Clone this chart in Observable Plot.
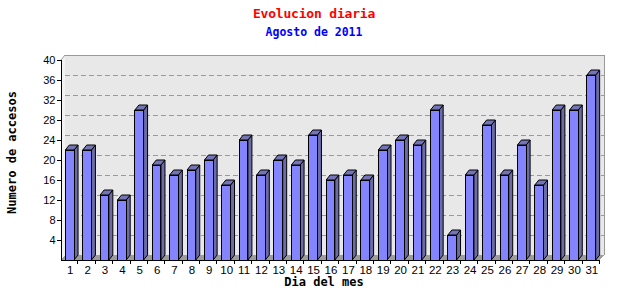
<!DOCTYPE html>
<html>
<head>
<meta charset="utf-8">
<script src="https://cdn.jsdelivr.net/npm/d3@7"></script>
<script src="https://cdn.jsdelivr.net/npm/@observablehq/plot@0.6"></script>
<style>
  html, body { margin: 0; padding: 0; background: #fff; }
  #wrap { position: relative; width: 640px; height: 300px; overflow: hidden; }
  #head { position: relative; width: 640px; height: 42px; }
  .t { position: absolute; left: 0; width: 628px; text-align: center; font-family: "DejaVu Sans Mono", monospace; font-weight: bold; }
  #title { top: 5px; font-size: 13px; line-height: 18px; color: #ff0000; letter-spacing: -0.2px; }
  #subtitle { top: 25px; font-size: 11.5px; line-height: 14px; color: #0000ff; }
  svg { display: block; }
</style>
</head>
<body>
<div id="wrap">
  <div id="head">
    <div class="t" id="title">Evolucion diaria</div>
    <div class="t" id="subtitle">Agosto de 2011</div>
  </div>
  <div id="chart"></div>
</div>
<script>
const dayLabels = ["1","2","3","4","5","6","7","8","9","10","11","12","13","14","15","16","17","18","19","20","21","22","23","24","25","26","27","28","29","30","31"];
const visits = [22,22,13,12,30,19,17,18,20,15,24,17,20,19,25,16,17,16,22,24,23,30,5,17,27,17,23,15,30,30,37];
const yTicks = [4,8,12,16,20,24,28,32,36,40];

const data = dayLabels.map((d, i) => ({day: d, value: visits[i]}));

const DX = 4, DY = 5;
const BAR_FRAC = 0.5;
const ns = "http://www.w3.org/2000/svg";

function el(name, attrs) {
  const e = document.createElementNS(ns, name);
  for (const k in attrs) e.setAttribute(k, attrs[k]);
  return e;
}
function poly(pts, attrs) {
  return el("polygon", Object.assign({points: pts.map(p => p.join(",")).join(" ")}, attrs));
}

// background scene: left wall, back panel, dashed grid, floor
function scene(index, scales, values, dimensions) {
  const {x, y} = scales;
  const L = dimensions.marginLeft, R = dimensions.width - dimensions.marginRight;
  const B = y(0), T = y(yTicks[yTicks.length - 1]);
  const g = el("g", {"shape-rendering": "crispEdges"});
  g.appendChild(poly([[L, B], [L, T], [L + DX, T - DY], [L + DX, B - DY]], {fill: "#f2f2f2"}));
  g.appendChild(el("rect", {x: L + DX, y: T - DY, width: R - L, height: B - T, fill: "#e8e8e8"}));
  for (const v of yTicks.slice(0, -1)) {
    g.appendChild(el("line", {x1: L + DX, x2: R + DX, y1: y(v) - DY, y2: y(v) - DY, stroke: "#9a9a9a", "stroke-dasharray": "5,3"}));
  }
  g.appendChild(el("line", {x1: L + DX, x2: R + DX, y1: T - DY, y2: T - DY, stroke: "#999"}));
  g.appendChild(el("line", {x1: R + DX, x2: R + DX, y1: T - DY, y2: B - DY, stroke: "#999"}));
  g.appendChild(el("line", {x1: L, x2: L + DX, y1: T, y2: T - DY, stroke: "#999", "shape-rendering": "auto"}));
  g.appendChild(poly([[L, B], [R, B], [R + DX, B - DY], [L + DX, B - DY]], {fill: "#9c9c9c"}));
  return g;
}

// side and top faces of the 3D bars
function barFaces(index, scales) {
  const {x, y} = scales;
  const bw = x.bandwidth();
  const w = bw * BAR_FRAC;
  const g = el("g", {stroke: "#000", "stroke-width": 1});
  for (const d of data) {
    const x0 = x(d.day) + (bw - w) / 2, x1 = x0 + w;
    const yt = y(d.value), yb = y(0);
    g.appendChild(poly([[x1, yb], [x1, yt], [x1 + DX, yt - DY], [x1 + DX, yb - DY]], {fill: "#6b6ba6"}));
    g.appendChild(poly([[x0, yt], [x1, yt], [x1 + DX, yt - DY], [x0 + DX, yt - DY]], {fill: "#7474b8"}));
  }
  return g;
}

// front axis lines and x ticks at band boundaries
function axesLines(index, scales, values, dimensions) {
  const {x, y} = scales;
  const L = dimensions.marginLeft, R = dimensions.width - dimensions.marginRight;
  const B = y(0), T = y(yTicks[yTicks.length - 1]);
  const step = x.step();
  const g = el("g", {stroke: "#000", "shape-rendering": "crispEdges"});
  g.appendChild(el("line", {x1: L, x2: L, y1: T, y2: B}));
  g.appendChild(el("line", {x1: L, x2: R, y1: B, y2: B}));
  for (let i = 1; i <= dayLabels.length; i++) {
    const xx = x(dayLabels[0]) + i * step - 0.5;
    g.appendChild(el("line", {x1: xx, x2: xx, y1: B, y2: B + 4}));
  }
  return g;
}

const chart = Plot.plot({
  width: 640,
  height: 258,
  marginTop: 18,
  marginBottom: 40,
  marginLeft: 61,
  marginRight: 40,
  style: {fontFamily: "Liberation Sans, Arial, sans-serif", fontSize: "11px", background: "#fff", color: "#000"},
  x: {domain: dayLabels, padding: 0, round: false},
  y: {domain: [0, 40]},
  marks: [
    scene,
    barFaces,
    Plot.barY(data, {
      x: "day", y: "value",
      fill: "#8484ff", stroke: "#000", strokeWidth: 1,
      insetLeft: 17.39 * (1 - BAR_FRAC) / 2, insetRight: 17.39 * (1 - BAR_FRAC) / 2,
      shapeRendering: "crispEdges"
    }),
    axesLines,
    Plot.axisY({ticks: yTicks, tickSize: 4, tickPadding: 2, label: null, fontSize: 11}),
    Plot.axisX({tickSize: 0, tickPadding: 5, label: null, fontSize: 11.5}),
    Plot.text(["Numero de accesos"], {
      frameAnchor: "left", dx: -49, dy: -8, rotate: -90, textAnchor: "middle", lineAnchor: "middle",
      fontFamily: "DejaVu Sans Mono, monospace", fontWeight: "bold", fontSize: 12, fill: "#000"
    }),
    Plot.text(["Dia del mes"], {
      frameAnchor: "bottom", dy: 22, dx: -7, lineAnchor: "middle",
      fontFamily: "DejaVu Sans Mono, monospace", fontWeight: "bold", fontSize: 12, fill: "#000"
    })
  ]
});
document.getElementById("chart").appendChild(chart);
</script>
</body>
</html>
